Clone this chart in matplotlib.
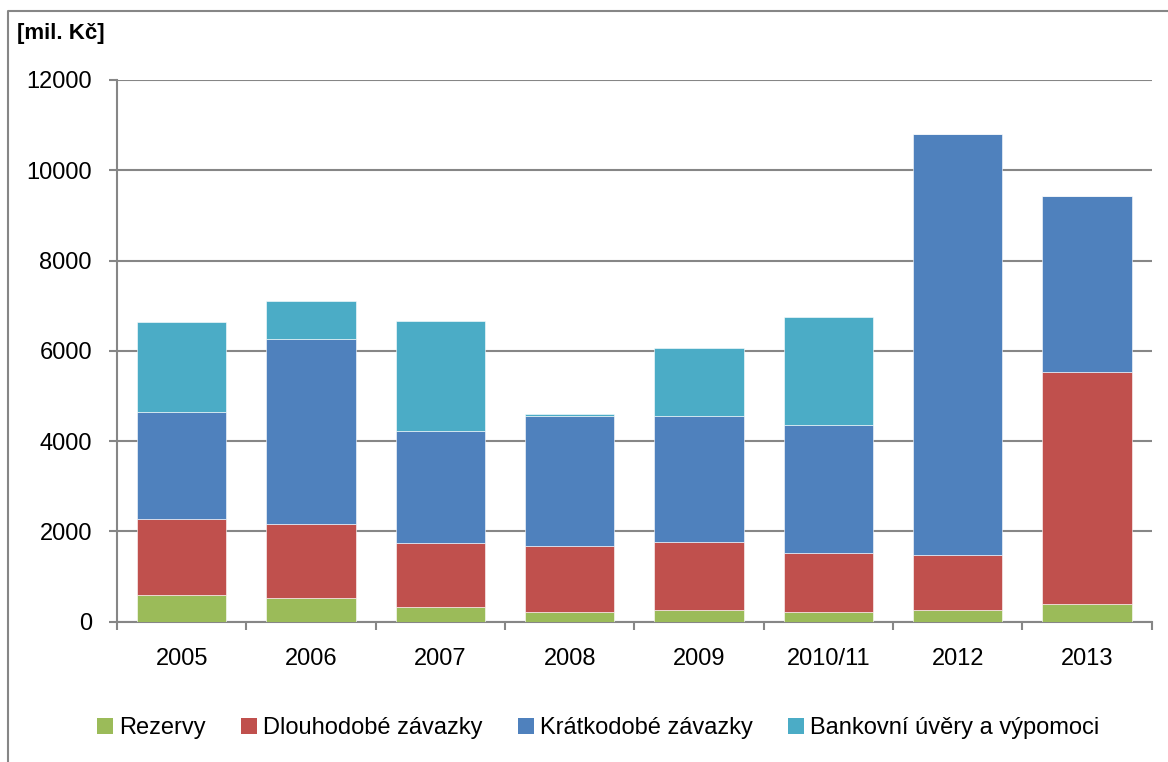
import matplotlib.pyplot as plt
import numpy as np
from matplotlib.patches import Patch
from matplotlib.lines import Line2D

plt.rcParams['font.family'] = ['Liberation Sans', 'DejaVu Sans']

years = ['2005', '2006', '2007', '2008', '2009', '2010/11', '2012', '2013']
rezervy = [590, 530, 320, 220, 260, 210, 250, 390]
dlouhodobe = [1680, 1630, 1420, 1450, 1510, 1310, 1230, 5150]
kratkodobe = [2370, 4110, 2480, 2890, 2790, 2840, 9320, 3900]
bankovni = [2000, 840, 2440, 30, 1500, 2380, 0, 0]

series = [
    ('Rezervy', rezervy, '#9BBB59'),
    ('Dlouhodobé závazky', dlouhodobe, '#C0504D'),
    ('Krátkodobé závazky', kratkodobe, '#4F81BD'),
    ('Bankovní úvěry a výpomoci', bankovni, '#4BACC6'),
]

W, H = 1168, 762
fig = plt.figure(figsize=(W / 100, H / 100), dpi=100)
ax = fig.add_axes([117 / W, 1 - 621.7 / H, 1034.7 / W, 541.7 / H])

x = np.arange(len(years))
bottom = np.zeros(len(years))
for name, vals, col in series:
    ax.bar(x, vals, width=0.69, bottom=bottom, color=col, edgecolor='white',
           linewidth=0.4, zorder=3)
    bottom += np.array(vals)

grid_col = '#868686'
ax.set_ylim(0, 12000)
ax.set_xlim(-0.5, len(years) - 0.5)
ax.set_yticks(range(0, 12001, 2000))
ax.yaxis.grid(True, color=grid_col, linewidth=1.5, zorder=0)
ax.set_axisbelow(True)

# category labels in the middle, tick marks between categories
ax.set_xticks(x)
ax.set_xticklabels(years)
ax.set_xticks(np.arange(-0.5, len(years)), minor=True)
ax.tick_params(axis='x', which='major', length=0, pad=19, labelsize=17)
ax.tick_params(axis='x', which='minor', length=6, width=1.5, color=grid_col)
ax.tick_params(axis='y', length=6, width=1.5, color=grid_col, pad=12, labelsize=17)

for s in ['top', 'right']:
    ax.spines[s].set_visible(False)
for s in ['left', 'bottom']:
    ax.spines[s].set_color(grid_col)
    ax.spines[s].set_linewidth(1.5)

fig.text(17 / W, 1 - 33 / H, '[mil. Kč]', fontsize=16, fontweight='bold',
         ha='left', va='center')

handles = [Patch(facecolor=c, label=n) for n, _, c in series]
fig.legend(handles=handles, loc='center', bbox_to_anchor=(598 / W, 1 - 728 / H),
           ncol=4, frameon=False, fontsize=17, handlelength=0.68,
           handleheight=0.68, handletextpad=0.25, columnspacing=1.5)

# outer chart border (left and top edges)
fig.add_artist(Line2D([8 / W, 8 / W, 1.0], [0.0, 1 - 11 / H, 1 - 11 / H],
                      transform=fig.transFigure, color=grid_col, linewidth=1.5))

fig.savefig('out.png', dpi=100)
